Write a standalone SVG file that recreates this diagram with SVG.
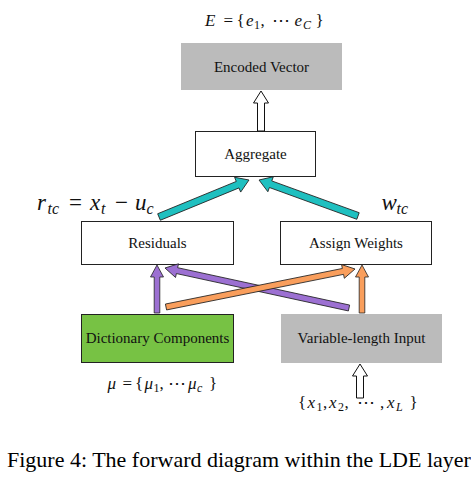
<svg xmlns="http://www.w3.org/2000/svg" width="471" height="484" viewBox="0 0 471 484">
<style>
.lbl{font-family:"Liberation Serif","Times New Roman",serif;font-size:15px;fill:#111;text-anchor:middle}
.math{font-family:"Liberation Serif","Times New Roman",serif;fill:#111}
.it{font-style:italic}
.box{fill:#fff;stroke:#222;stroke-width:1}
.gray{fill:#bbbbbb}
.green{fill:#77c244;stroke:#222;stroke-width:1}
.cyan{fill:#1fc0c0;stroke:#222;stroke-width:0.8}
.purple{fill:#9c70d2;stroke:#222;stroke-width:0.8}
.orange{fill:#f99e5c;stroke:#222;stroke-width:0.8}
.hollow{fill:#fff;stroke:#111;stroke-width:1}
</style>
<rect width="471" height="484" fill="#fff"/>

<g id="label-E">
<text class="math" font-size="17"><tspan class="it" x="205" y="26">E</tspan><tspan x="223.5" y="26">=</tspan><tspan x="236.5" y="26">{</tspan><tspan class="it" x="246" y="26">e</tspan><tspan font-size="12" x="254" y="28.5">1</tspan><tspan x="260.5" y="26">,</tspan><tspan x="272" y="26" font-size="18">⋯</tspan><tspan class="it" x="294.5" y="26">e</tspan><tspan class="it" font-size="12" x="303" y="28.5">C</tspan><tspan x="315.5" y="26">}</tspan></text>
</g>

<g id="node-encoded">
<rect class="gray" x="181" y="43" width="161" height="47"/>
<text class="lbl" x="261.5" y="72">Encoded Vector</text>
</g>

<g id="node-aggregate">
<rect class="box" x="195.5" y="131.5" width="120" height="45"/>
<text class="lbl" x="255.5" y="159">Aggregate</text>
</g>

<g id="label-r">
<text class="math" font-size="23"><tspan class="it" x="37" y="210">r</tspan><tspan class="it" font-size="16" x="47.5" y="214">tc</tspan><tspan x="69" y="210">=</tspan><tspan class="it" x="90" y="210">x</tspan><tspan class="it" font-size="16" x="101" y="214">t</tspan><tspan x="115" y="210">−</tspan><tspan class="it" x="135" y="210">u</tspan><tspan class="it" font-size="16" x="146.5" y="214">c</tspan></text>
</g>
<g id="label-w">
<text class="math" font-size="23"><tspan class="it" x="381.5" y="210">w</tspan><tspan class="it" font-size="16" x="396.5" y="214">tc</tspan></text>
</g>

<g id="node-residuals">
<rect class="box" x="81.5" y="221.5" width="152" height="43"/>
<text class="lbl" x="157.5" y="248">Residuals</text>
</g>

<g id="node-assign">
<rect class="box" x="280.5" y="221.5" width="151" height="43"/>
<text class="lbl" x="356" y="248">Assign Weights</text>
</g>

<g id="node-dictionary">
<rect class="green" x="81.5" y="314.5" width="152" height="48"/>
<text class="lbl" x="157.5" y="343">Dictionary Components</text>
</g>

<g id="node-input">
<rect class="gray" x="281" y="314" width="161" height="49"/>
<text class="lbl" x="361.5" y="343">Variable-length Input</text>
</g>

<g id="label-mu">
<text class="math" font-size="17"><tspan class="it" x="107.5" y="389">μ</tspan><tspan x="122.5" y="389">=</tspan><tspan x="135" y="389">{</tspan><tspan class="it" x="144.5" y="389">μ</tspan><tspan font-size="12" x="153.5" y="391.5">1</tspan><tspan x="159.5" y="389">,</tspan><tspan x="168" y="389" font-size="18">⋯</tspan><tspan class="it" x="188" y="389">μ</tspan><tspan class="it" font-size="12" x="197" y="391.5">c</tspan><tspan x="209" y="389">}</tspan></text>
</g>

<g id="label-x">
<text class="math" font-size="17"><tspan x="298" y="408">{</tspan><tspan class="it" x="307.5" y="408">x</tspan><tspan font-size="12" x="316.5" y="410.5">1</tspan><tspan x="323" y="408">,</tspan><tspan class="it" x="329" y="408">x</tspan><tspan font-size="12" x="338" y="410.5">2</tspan><tspan x="344.5" y="408">,</tspan><tspan x="357" y="408" font-size="18">⋯</tspan><tspan x="380" y="408">,</tspan><tspan class="it" x="387" y="408">x</tspan><tspan class="it" font-size="12" x="396" y="410.5">L</tspan><tspan x="409.5" y="408">}</tspan></text>
</g>

<g id="connectors">
<polygon class="hollow" points="257.5,131 257.5,103 253.5,103 261,91 268.5,103 264.5,103 264.5,131"/>
<polygon class="hollow" points="356.5,398 356.5,376 352.5,376 360,364 367.5,376 363.5,376 363.5,398"/>
<polygon class="cyan" transform="translate(159,217) rotate(-22.35)" points="0,-3.5 85,-3.5 85,-8 97.3,0 85,8 85,3.5 0,3.5"/>
<polygon class="cyan" transform="translate(358,216) rotate(-160.02)" points="0,-3.5 93,-3.5 93,-8 105.3,0 93,8 93,3.5 0,3.5"/>
<polygon class="purple" transform="translate(157,313) rotate(-90)" points="0,-2.8 36,-2.8 36,-6.5 48,0 36,6.5 36,2.8 0,2.8"/>
<polygon class="purple" transform="translate(349,308) rotate(-167.74)" points="0,-3 176,-3 176,-7 188.3,0 176,7 176,3 0,3"/>
<polygon class="orange" transform="translate(166,307) rotate(-11.37)" points="0,-3 180.5,-3 180.5,-7 192.8,0 180.5,7 180.5,3 0,3"/>
<polygon class="orange" transform="translate(362,313) rotate(-90)" points="0,-2.8 36,-2.8 36,-6.5 48,0 36,6.5 36,2.8 0,2.8"/>
</g>

<g id="caption">
<text x="7" y="467" font-family="'Liberation Serif','Times New Roman',serif" font-size="22" fill="#000">Figure 4: The forward diagram within the LDE layer</text>
</g>
</svg>
